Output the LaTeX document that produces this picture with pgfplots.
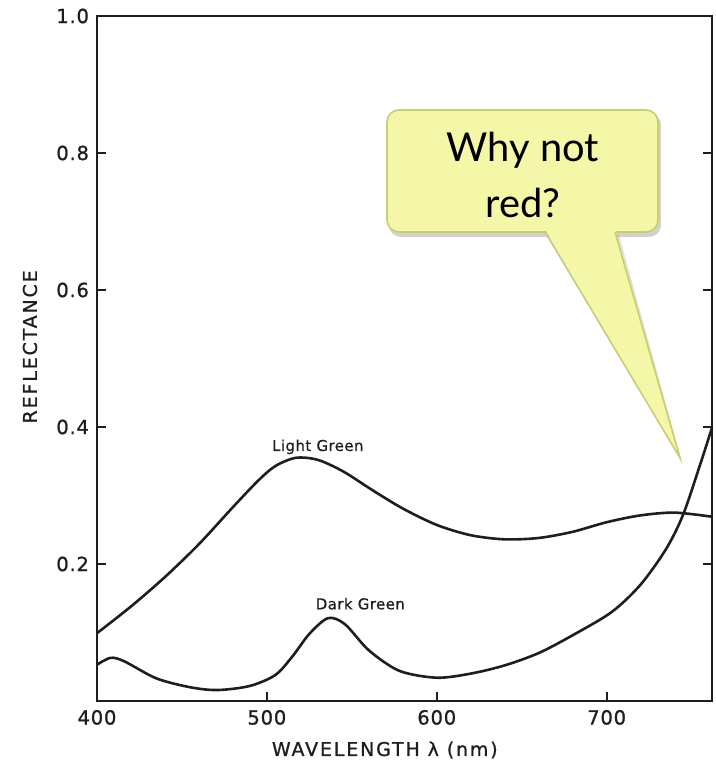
\documentclass[border=0pt]{standalone}
\usepackage{pgfplots}
\pgfplotsset{compat=1.18}
\usepackage{fontspec}
\setmainfont{DejaVu Sans}
\newfontfamily\calloutfont{Lato}
\definecolor{calfill}{RGB}{245,247,168}
\definecolor{calborder}{RGB}{200,206,118}
\definecolor{ink}{RGB}{30,30,30}
\begin{document}
\begin{tikzpicture}
\useasboundingbox (-48.5bp,-32bp) rectangle (309.5bp,350.5bp);
\begin{axis}[
  at={(0,0)}, anchor=south west,
  scale only axis, width=307.5bp, height=342.5bp,
  xmin=400, xmax=762, ymin=0, ymax=1.0,
  axis line style={line width=1bp, ink},
  xtick={400,500,600,700}, xticklabels={400,500,600,700},
  ytick={0.2,0.4,0.6,0.8,1.0}, yticklabels={0.2,0.4,0.6,0.8,1.0},
  xtick pos=bottom, ytick pos=both,
  tick align=inside, major tick length=4.5bp,
  tick style={line width=0.9bp, ink},
  ticklabel style={font=\fontsize{9.8}{11}\selectfont\addfontfeature{LetterSpace=4,FakeBold=1}, ink},
  xticklabel style={yshift=-1bp},
  yticklabel style={xshift=-0.5bp},
  xlabel={WAVELENGTH λ (nm)},
  ylabel={REFLECTANCE},
  label style={font=\fontsize{9.5}{11}\selectfont\addfontfeature{LetterSpace=10,FakeBold=1}, ink},
  xlabel style={at={(axis description cs:0.468,0)}, anchor=center, yshift=-24.5bp},
  ylabel style={at={(axis description cs:-0.109,0.517)}, anchor=center},
  clip=false,
]
\addplot[ink, line width=1.3bp, smooth, tension=0.5] coordinates {
(400,0.099) (420,0.138) (440,0.181) (460,0.229) (480,0.283) (495,0.322)
(505,0.343) (517,0.355) (530,0.352) (545,0.335) (562,0.308) (580,0.281)
(600,0.257) (620,0.242) (640,0.236) (660,0.238) (680,0.247) (700,0.261)
(720,0.271) (740,0.275) (762,0.269)};
\addplot[ink, line width=1.3bp, smooth, tension=0.5] coordinates {
(400,0.053) (408,0.063) (416,0.058) (435,0.033) (455,0.020) (471,0.016)
(490,0.022) (505,0.038) (515,0.065) (525,0.098) (536,0.121) (546,0.112)
(560,0.074) (578,0.044) (600,0.034) (620,0.040) (640,0.052) (660,0.070)
(680,0.096) (703,0.130) (720,0.170) (735,0.222) (745,0.272) (755,0.345)
(762,0.399)};
\node[font=\fontsize{7.5}{9}\selectfont\addfontfeature{LetterSpace=3,FakeBold=0.6}, ink] at (axis cs:530,0.371) {Light Green};
\node[font=\fontsize{7.5}{9}\selectfont\addfontfeature{LetterSpace=3,FakeBold=0.6}, ink] at (axis cs:555,0.142) {Dark Green};
\end{axis}
% callout
\fill[black, opacity=0.18, rounded corners=6bp] (146bp,232bp) rectangle (282bp,294bp);
\fill[black, opacity=0.12] (225bp,233bp) -- (292.5bp,119.5bp) -- (261bp,233bp) -- cycle;
\filldraw[fill=calfill, draw=calborder, line width=0.8bp, rounded corners=6bp] (145bp,234.5bp) rectangle (280.5bp,295.5bp);
\fill[calfill] (224bp,236bp) -- (291.5bp,121.5bp) -- (259bp,236bp) -- cycle;
\draw[calborder, line width=0.8bp] (224bp,234.5bp) -- (291.5bp,121.5bp) -- (259bp,234.5bp);
\node[font=\calloutfont\fontsize{20}{28.5}\selectfont, align=center, text=black] at (213bp,263bp) {Why not\\red?};
\end{tikzpicture}
\end{document}
